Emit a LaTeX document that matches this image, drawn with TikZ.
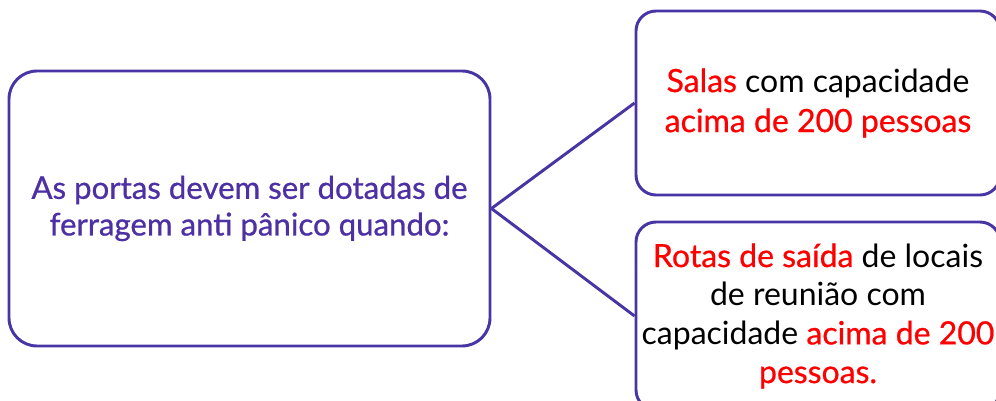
\documentclass[tikz,border=0pt]{standalone}
\usepackage{fontspec}
\setmainfont{Lato}
\newfontfamily\medfont[FakeBold=0.7]{Lato}
\definecolor{boxc}{RGB}{72,52,164}
\definecolor{lefttext}{RGB}{76,48,164}
\definecolor{hired}{RGB}{255,0,0}
\newcommand{\hl}[1]{{\medfont\color{hired}#1}}
\begin{document}
\begin{tikzpicture}[x=0.75pt,y=-0.75pt,
  box/.style={draw=boxc, line width=2.2pt, fill=white, align=center, inner sep=0pt},
  conn/.style={draw=boxc, line width=2.2pt}]
\useasboundingbox (0,0) rectangle (996,400);
\clip (0,0) rectangle (996,400);
\node[box, rounded corners=21pt, minimum width=360.75pt, minimum height=206.25pt,
  text=lefttext, font=\fontsize{23.4pt}{27.5pt}\medfont] (left) at (249.5,208.5)
  {As portas devem ser dotadas de\\ferragem anti pânico quando:};
\node[box, rounded corners=15pt, minimum width=273pt, minimum height=138pt,
  font=\fontsize{24pt}{30pt}\selectfont] (top) at (818,103)
  {\hl{Salas} com capacidade\\\hl{acima de 200 pessoas}};
\node[box, rounded corners=15pt, minimum width=273pt, minimum height=141pt,
  font=\fontsize{24pt}{29pt}\selectfont] (bot) at (818,316)
  {\hl{Rotas de saída} de locais\\de reunião com\\capacidade \hl{acima de 200}\\\hl{pessoas.}};
\draw[conn] (left.east) -- (top.west);
\draw[conn] (left.east) -- (bot.west);
\end{tikzpicture}
\end{document}
